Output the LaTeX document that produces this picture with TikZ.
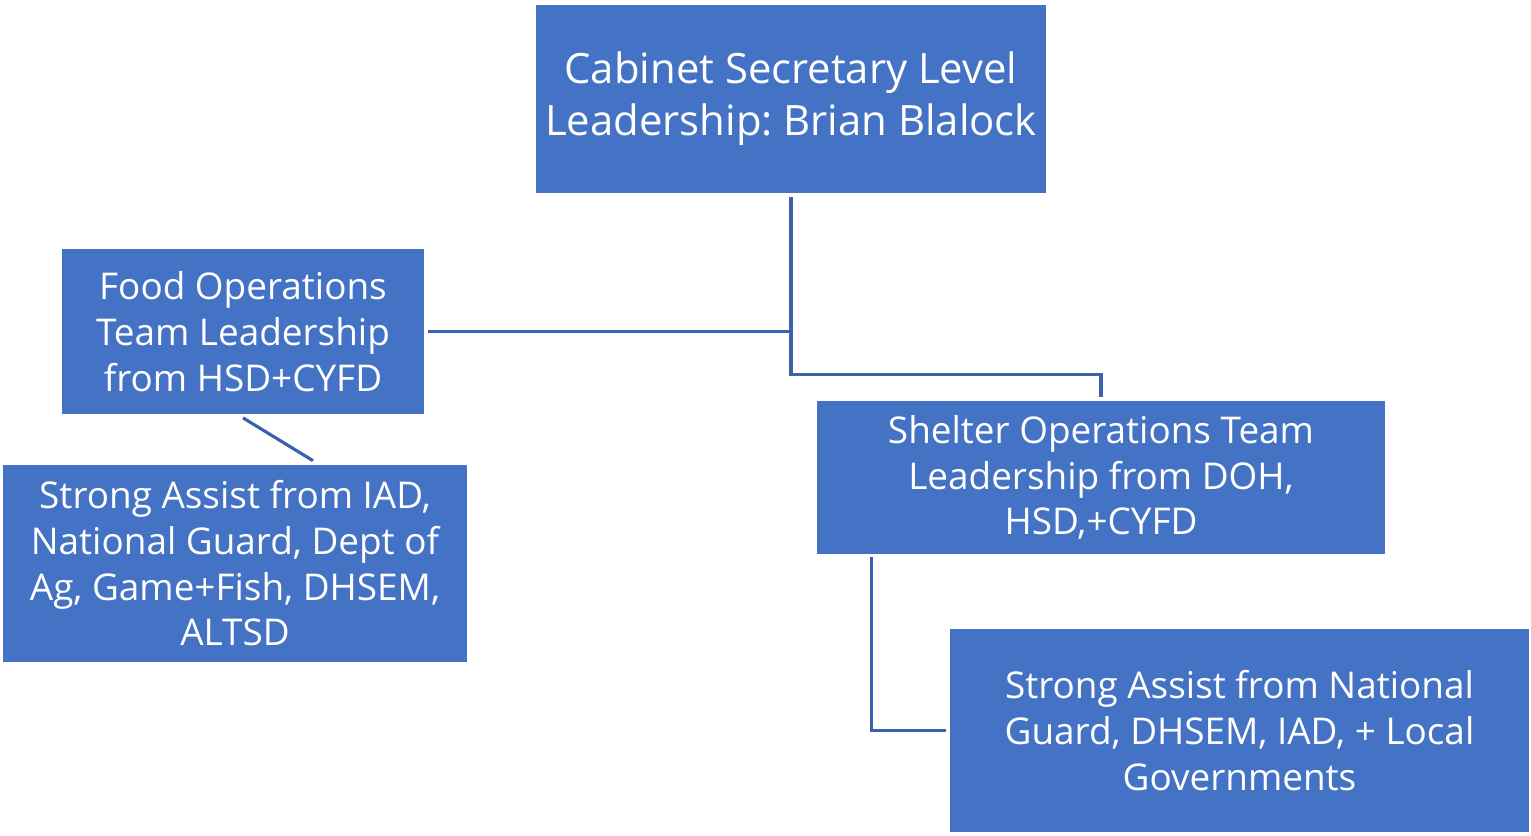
\documentclass[tikz,border=0pt]{standalone}
\usepackage{fontspec}
\setmainfont{Open Sans}
\usepackage{tikz}
\usetikzlibrary{positioning, calc}
\definecolor{boxblue}{HTML}{4472C4}
\definecolor{lineblue}{HTML}{3A62AC}
\frenchspacing

\begin{document}
\begin{tikzpicture}[x=0.02cm, y=-0.02cm,
    teambox/.style={fill=boxblue, text=white, align=center, inner sep=0pt,
      font=\fontsize{21}{26}\selectfont},
    link/.style={draw=lineblue, line width=1.8pt}]
    \useasboundingbox (0,0) rectangle (1531,835);
    \node[teambox, minimum width=10.2cm, minimum height=3.76cm,
      font=\fontsize{23.8}{29.5}\selectfont] (cabinet) at (791,99)
      {Cabinet Secretary Level\\Leadership: Brian Blalock};
    \node[teambox, minimum width=7.24cm, minimum height=3.3cm] (food) at (243,331.5)
      {Food Operations\\Team Leadership\\from HSD+CYFD};
    \node[teambox, minimum width=9.28cm, minimum height=3.94cm] (foodassist) at (235,563.5)
      {Strong Assist from IAD,\\National Guard, Dept of\\Ag, Game+Fish, DHSEM,\\ALTSD};
    \node[teambox, minimum width=11.36cm, minimum height=3.06cm] (shelter) at (1101,477.5)
      {Shelter Operations Team\\Leadership from DOH,\\HSD,+CYFD};
    \node[teambox, minimum width=11.58cm, minimum height=4.06cm] (shelterassist) at (1239.5,730.5)
      {Strong Assist from National\\Guard, DHSEM, IAD, + Local\\Governments};
    % connectors
    \draw[link] ([yshift=-2pt]cabinet.south) -- ++(0,178) -| ([yshift=2pt]shelter.north);
    \draw[link] ([xshift=2pt]food.east) -- (food.east -| cabinet.south);
    \draw[link] ([yshift=-2pt]food.south) -- ($(foodassist.north)+(78,-4)$);
    \draw[link] ($(shelter.south west)+(55,3)$) |- ([xshift=-2pt]shelterassist.west);
\end{tikzpicture}
\end{document}
